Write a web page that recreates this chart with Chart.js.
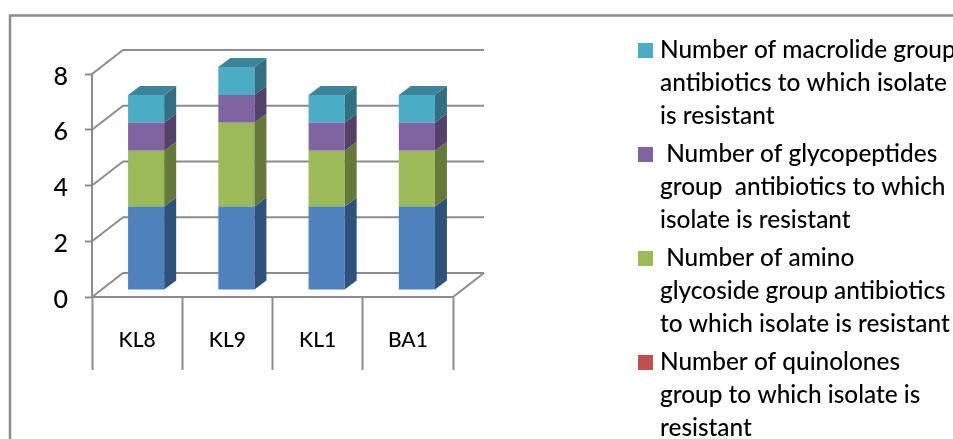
<!DOCTYPE html>
<html>
<head>
<meta charset="utf-8">
<style>
  body { margin: 0; background: #fff; }
  canvas { display: block; }
</style>
<script src="https://cdn.jsdelivr.net/npm/chart.js@4"></script>
</head>
<body>
<canvas id="grafico" width="953" height="439"></canvas>
<script>
// Data
const isolates = ['KL8', 'KL9', 'KL1', 'BA1'];
const betaLactam = [3, 3, 3, 3];
const quinolones = [0, 0, 0, 0];
const aminoglycoside = [2, 3, 2, 2];
const glycopeptides = [1, 1, 1, 1];
const macrolide = [1, 1, 1, 1];

// Legend wording, line by line as it wraps in the picture
const legendMacrolide = ['Number of macrolide group', 'antibiotics to which isolate', 'is resistant'];
const legendGlycopeptides = [' Number of glycopeptides', 'group  antibiotics to which', 'isolate is resistant'];
const legendAminoglycoside = [' Number of amino', 'glycoside group antibiotics', 'to which isolate is resistant'];
const legendQuinolones = ['Number of quinolones', 'group to which isolate is', 'resistant'];

const FONT = 'Lato, Carlito, sans-serif';
const LINE = '#8c8c8c';

// 3D look: bars sit in front of the wall, shifted from the front plane
const wall = { dx: 31, dy: -24 };
const barShift = { dx: 9, dy: -7 };
const barDepth = { dx: 12, dy: -9 };

const sideColors = ['#2f527c', '#7c3230', '#657a3a', '#53416a', '#317082'];
const topColors = ['#3a6596', '#983f3c', '#7c9546', '#665082', '#3a8599'];

function poly(c, pts, fill) {
  c.beginPath();
  pts.forEach((p, i) => i ? c.lineTo(p[0], p[1]) : c.moveTo(p[0], p[1]));
  c.closePath();
  c.fillStyle = fill;
  c.fill();
}

// Frame, back wall and floor, behind the bars
const walls = {
  id: 'walls',
  beforeDatasetsDraw(chart) {
    const c = chart.ctx, y = chart.scales.y, a = chart.chartArea;
    c.save();
    c.strokeStyle = LINE;
    c.lineWidth = 2.5;
    c.strokeRect(10, 15.5, 1200, 800);
    c.lineWidth = 2;
    c.lineJoin = 'round';
    y.ticks.forEach(t => {
      const py = y.getPixelForValue(t.value);
      c.beginPath();
      c.moveTo(a.left, py);
      c.lineTo(a.left + wall.dx, py + wall.dy);
      c.lineTo(a.right + wall.dx, py + wall.dy);
      c.stroke();
    });
    c.beginPath();
    c.moveTo(a.right, a.bottom);
    c.lineTo(a.right + wall.dx, a.bottom + wall.dy);
    c.stroke();
    c.restore();
    // Bars are drawn shifted towards the wall
    c.save();
    c.translate(barShift.dx, barShift.dy);
  },
  afterDatasetsDraw(chart) {
    const c = chart.ctx, sets = chart.data.datasets, d = barDepth;
    sets.forEach((ds, i) => {
      chart.getDatasetMeta(i).data.forEach((bar, j) => {
        if (!ds.data[j]) return;
        const r = bar.x + bar.width / 2, l = bar.x - bar.width / 2;
        poly(c, [[r, bar.y], [r + d.dx, bar.y + d.dy], [r + d.dx, bar.base + d.dy], [r, bar.base]], sideColors[i]);
        // only the highest segment of a stack shows its top
        const covered = sets.slice(i + 1).some(o => o.data[j] > 0);
        if (!covered) {
          poly(c, [[l, bar.y], [l + d.dx, bar.y + d.dy], [r + d.dx, bar.y + d.dy], [r, bar.y]], topColors[i]);
        }
      });
    });
    c.restore();
  }
};

// Legend as in the picture, the last entry runs off the bottom of the image
const legendRows = [
  { lines: legendMacrolide, dataset: 4 },
  { lines: legendGlycopeptides, dataset: 3 },
  { lines: legendAminoglycoside, dataset: 2 },
  { lines: legendQuinolones, dataset: 1 }
];
const legend3d = {
  id: 'legend3d',
  afterDraw(chart) {
    const c = chart.ctx;
    c.save();
    c.font = '500 24.4px ' + FONT;
    c.textBaseline = 'alphabetic';
    legendRows.forEach((row, i) => {
      const top = 43 + i * 104;
      c.fillStyle = chart.data.datasets[row.dataset].backgroundColor;
      c.fillRect(638, top, 15, 15);
      c.fillStyle = '#000';
      row.lines.forEach((txt, k) => c.fillText(txt, 660, top + 14.5 + k * 33.3));
    });
    c.restore();
  }
};

new Chart(document.getElementById('grafico'), {
  type: 'bar',
  data: {
    labels: isolates,
    datasets: [
      { label: 'Beta lactam', data: betaLactam, backgroundColor: '#4f81bd' },
      { label: 'Quinolones', data: quinolones, backgroundColor: '#c0504d' },
      { label: 'Aminoglycoside', data: aminoglycoside, backgroundColor: '#9bbb59' },
      { label: 'Glycopeptides', data: glycopeptides, backgroundColor: '#8064a2' },
      { label: 'Macrolide', data: macrolide, backgroundColor: '#4bacc6' }
    ]
  },
  options: {
    responsive: false,
    animation: false,
    barPercentage: 0.4,
    categoryPercentage: 1,
    layout: { padding: { top: 74, right: 500, left: 0, bottom: 0 } },
    plugins: { legend: { display: false }, tooltip: { enabled: false } },
    scales: {
      x: {
        stacked: true,
        afterFit(s) { s.height = 142; },
        border: { color: LINE, width: 2 },
        grid: { offset: true, drawOnChartArea: false, tickLength: 73, tickWidth: 2, tickColor: LINE },
        ticks: { color: '#000', font: { family: FONT, size: 21, weight: '500' }, padding: -42, maxRotation: 0 }
      },
      y: {
        stacked: true,
        min: 0,
        max: 8,
        afterFit(s) { s.width = 92; },
        border: { color: LINE, width: 2 },
        grid: { drawOnChartArea: false, tickLength: 7, tickWidth: 2, tickColor: LINE },
        ticks: { color: '#000', stepSize: 2, font: { family: FONT, size: 25, weight: '500' }, padding: 17, labelOffset: 2.5 }
      }
    }
  },
  plugins: [walls, legend3d]
});
</script>
</body>
</html>
